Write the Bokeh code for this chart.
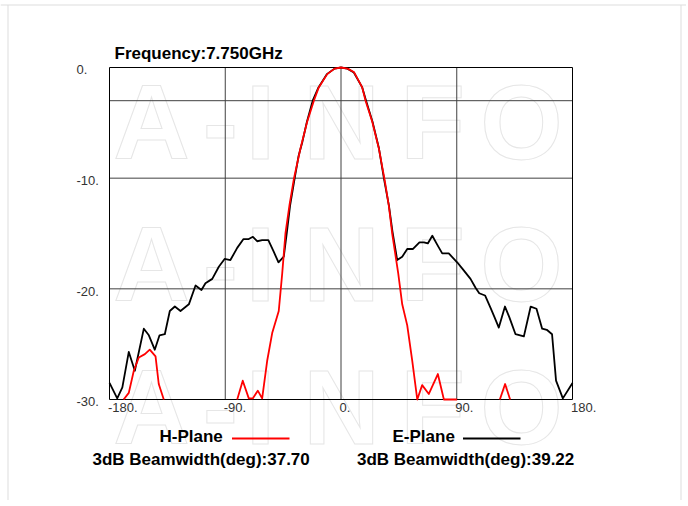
from bokeh.plotting import figure
from bokeh.models import Range1d
from bokeh.core.properties import value
from bokeh.embed import file_html
from bokeh.resources import INLINE

# ---------------- data ----------------
TITLE = "Frequency:7.750GHz"

E_DEG = [-180, -174, -170, -165, -160.3, -153.3, -149.4, -144.8, -141.1, -137,
         -133.1, -129.2, -124.8, -118.3, -113.1, -108.5, -105.4, -100.1, -95, -90.5,
         -86, -80.7, -75.8, -71.7, -68.5, -65.2, -61.3, -56.5, -52.5, -48.6,
         -44.5, -42, -39.5, -36, -33, -30, -26.5, -22, -17.5, -11,
         -5, 0, 5, 10, 16.5, 19.5, 24.5, 29.5, 33.5, 37.3,
         40, 43.7, 47.6, 51.5, 56, 61, 64.5, 67.5, 71, 74.8,
         78.7, 83.8, 90.3, 94.5, 100.7, 104.6, 107.5, 112, 116.2, 119.5,
         122.7, 127.5, 131, 135.7, 142.2, 147.5, 152, 156.4, 160, 164.1,
         167.2, 172.5, 180]
E_DB = [-28.5, -29.9, -28.9, -25.7, -27.4, -23.6, -24.2, -25.5, -24.2, -24.1,
        -22.0, -21.6, -22.0, -21.4, -19.7, -20.1, -19.5, -19.1, -18.0, -17.3,
        -17.4, -16.3, -15.5, -15.5, -15.3, -15.7, -15.6, -15.6, -16.6, -17.6,
        -17.1, -14.8, -12.4, -10.0, -8.0, -6.7, -4.9, -3.0, -1.8, -0.6,
        -0.1, 0.0, -0.1, -0.45, -1.8, -3.0, -4.9, -7.3, -10.1, -12.5,
        -14.8, -17.4, -17.1, -16.4, -16.4, -15.8, -15.8, -15.9, -15.2, -16.0,
        -16.8, -16.8, -17.6, -18.2, -19.1, -19.9, -20.4, -20.6, -21.7, -22.6,
        -23.5, -21.6, -22.6, -24.1, -24.3, -21.6, -21.8, -23.6, -23.7, -24.1,
        -28.3, -29.9, -28.5]

# H-plane: visible pieces (the rest lies below the -30 dB floor)
H1_DEG = [-169, -165, -161.1, -157.2, -152.5, -148.7, -144.2, -141.7, -137.8]
H1_DB = [-30.0, -29.4, -27.4, -26.2, -25.9, -25.5, -26.1, -28.6, -30.0]

H2_DEG = [-80.7, -76.4, -71.7, -68.6, -64.7, -61.3, -57.4, -53.5, -48.4, -45.7,
          -43.2, -40.0, -36.7, -31.5, -26.3, -21.1, -17.3, -10.7, -5, 0,
          5, 10, 16.5, 19.1, 24.3, 29.4, 34.0, 37.2, 39.8, 42.4,
          44.5, 47.6, 51.5, 55.4, 59.3, 63.1, 68.3, 75.3, 80.0, 90.3]
H2_DB = [-30.0, -28.3, -29.9, -29.9, -29.2, -29.9, -26.5, -24.0, -22.0, -18.6,
         -15.0, -12.4, -10.1, -7.3, -4.9, -3.0, -1.8, -0.6, -0.1, 0.0,
         -0.1, -0.4, -1.8, -3.0, -4.9, -7.3, -10.2, -12.5, -15.0, -17.0,
         -18.6, -21.4, -23.3, -26.5, -30.0, -28.7, -29.5, -27.7, -30.0, -30.0]

H3_DEG = [123.5, 127.6, 131.5]
H3_DB = [-30.0, -28.6, -30.0]

X_TICKS = [-180, -90, 0, 90, 180]
X_TICK_LABELS = ["-180.", "-90.", "0.", "90.", "180."]
Y_TICKS = [0, -10, -20, -30]
Y_TICK_LABELS = ["0.", "-10.", "-20.", "-30."]
X_GRID = [-90, 0, 90]
Y_GRID = [-3, -10, -20]

H_NAME, E_NAME = "H-Plane", "E-Plane"
H_BW = "3dB Beamwidth(deg):37.70"
E_BW = "3dB Beamwidth(deg):39.22"
WATERMARK = ["A", "-", "I", "N", "F", "O"]

# ---------------- layout (pixels) ----------------
X0, X1 = -180, 180
Y0, Y1 = -30, 0
W, HGT = 686, 500
FX0, FX1 = 109, 572      # chart box left / right
FY0, FY1 = 67, 399       # chart box top / bottom
SX = (FX1 - FX0) / (X1 - X0)
SY = (FY1 - FY0) / (Y1 - Y0)


def px2x(px):
    return X0 + (px - FX0) / SX


def py2y(py):
    return Y1 - (py - FY0) / SY


FONT = value("Liberation Sans")

p = figure(width=W, height=HGT, output_backend="svg", toolbar_location=None,
           x_range=Range1d(px2x(0), px2x(W)), y_range=Range1d(py2y(HGT), py2y(0)),
           x_axis_location=None, y_axis_location=None,
           min_border=0, min_border_left=0, min_border_right=0,
           min_border_top=0, min_border_bottom=0,
           background_fill_color="white", border_fill_color="white",
           outline_line_color=None)
p.grid.visible = False

# faint page frame
p.segment(x0=[px2x(0), px2x(7.5), px2x(680.5)], y0=[py2y(4.5), py2y(4.5), py2y(4.5)],
          x1=[px2x(W), px2x(7.5), px2x(680.5)], y1=[py2y(4.5), py2y(HGT), py2y(HGT)],
          line_color="#dddddd", line_width=1, level="image")

# watermark (outlined letters)
wm_x = [151, 220, 260, 341, 432, 521]
wm_rows = [121.5, 263.5, 406.5]
wm_xs, wm_ys, wm_t = [], [], []
for r in wm_rows:
    for ch, cx in zip(WATERMARK, wm_x):
        wm_xs.append(px2x(cx))
        wm_ys.append(py2y(r))
        wm_t.append(ch)
p.text(wm_xs, wm_ys, text=wm_t, text_font=FONT, text_font_size="106px",
       text_font_style="bold", text_align="center", text_baseline="middle",
       text_color="white", text_outline_color="#e6e6e6", level="image")

# grid lines inside the chart box
p.segment(x0=X_GRID, y0=[Y0] * len(X_GRID), x1=X_GRID, y1=[Y1] * len(X_GRID),
          line_color="#404040", line_width=1)
p.segment(x0=[X0] * len(Y_GRID), y0=Y_GRID, x1=[X1] * len(Y_GRID), y1=Y_GRID,
          line_color="#404040", line_width=1)
# chart box
p.quad(left=[X0], right=[X1], bottom=[Y0], top=[Y1], fill_color=None,
       line_color="black", line_width=1)

# curves
p.line(E_DEG, E_DB, line_color="black", line_width=1.8, line_join="round")
for xs, ys in ((H1_DEG, H1_DB), (H2_DEG, H2_DB), (H3_DEG, H3_DB)):
    p.line(xs, ys, line_color="#ff0000", line_width=1.8, line_join="round")

# tick labels
p.text(X_TICKS, [py2y(407.2)] * len(X_TICKS), text=X_TICK_LABELS, x_offset=-1.5,
       text_font=FONT, text_font_size="13px", text_color="#333333",
       text_align="left", text_baseline="middle")
p.text([px2x(76)] * len(Y_TICKS), [t - 2.2 / SY for t in Y_TICKS], text=Y_TICK_LABELS,
       text_font=FONT, text_font_size="13px", text_color="#333333",
       text_align="left", text_baseline="middle")

# title
p.text([px2x(114)], [py2y(53.2)], text=[TITLE], text_font=FONT,
       text_font_size="17px", text_font_style="bold", text_color="black",
       text_align="left", text_baseline="middle")

# legend
p.text([px2x(159), px2x(392), px2x(92), px2x(356.5)],
       [py2y(435.9), py2y(435.9), py2y(458.5), py2y(458.5)],
       text=[H_NAME, E_NAME, H_BW, E_BW], text_font=FONT,
       text_font_size="17px", text_font_style="bold", text_color="black",
       text_align="left", text_baseline="middle")
p.line([px2x(231.5), px2x(289)], [py2y(438)] * 2, line_color="#ff0000", line_width=2)
p.line([px2x(462.5), px2x(520)], [py2y(438)] * 2, line_color="black", line_width=2)

open("out.html", "w").write(file_html(p, INLINE))
